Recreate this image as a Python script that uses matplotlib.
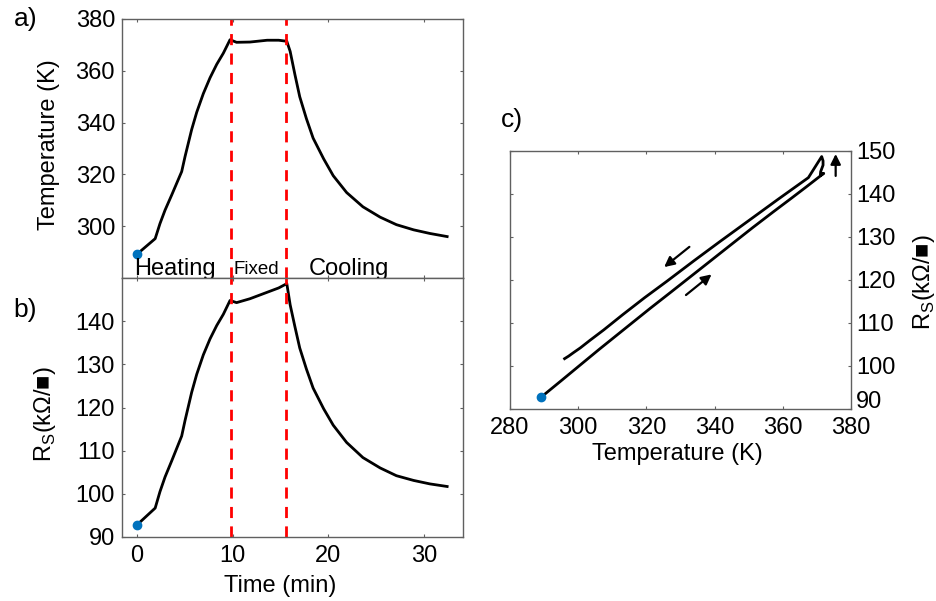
import matplotlib
matplotlib.use('Agg')
import matplotlib.pyplot as plt
import matplotlib.transforms as mtransforms
import numpy as np

plt.rcParams['font.family'] = ['Liberation Sans', 'DejaVu Sans']
plt.rcParams['mathtext.fontset'] = 'custom'
plt.rcParams['mathtext.rm'] = 'Liberation Sans'

# time (min), temperature (K), sheet resistance (kOhm/sq)
time = [0, 1.9, 2.4, 2.93, 3.62, 4.67, 5.02, 5.71, 6.24, 6.93, 7.63, 8.33, 9.02, 9.72,
        10.4, 11.8, 13.6, 14.8, 15.65,
        16.0, 16.5, 17.0, 17.7, 18.4, 19.5, 20.5, 21.9, 23.6, 25.4, 27.1, 28.9, 30.6, 32.4]
temp = [289.2, 295.2, 301.0, 306.2, 312.0, 321.1, 326.9, 337.3, 344.0, 351.2, 357.3, 362.5, 366.8, 372.0,
        371.0, 371.1, 371.8, 371.8, 371.4,
        367.5, 358.5, 350.0, 341.5, 334.0, 326.0, 319.5, 313.0, 307.5, 303.5, 300.6, 298.6, 297.2, 296.0]
rs = [92.8, 96.7, 100.5, 103.9, 107.6, 113.4, 117.0, 123.5, 127.7, 132.2, 135.9, 139.0, 141.6, 144.8,
      144.3, 145.2, 146.7, 147.7, 148.7,
      143.8, 138.7, 133.8, 128.9, 124.5, 119.7, 115.9, 111.9, 108.4, 106.0, 104.2, 103.1, 102.3, 101.7]

phase_edges = [9.8, 15.6]
time_ticks = [0, 10, 20, 30]
temp_ticks = [300, 320, 340, 360, 380]
rs_ticks_b = [90, 100, 110, 120, 130, 140]
rs_ticks_c = [90, 100, 110, 120, 130, 140, 150]
tc_ticks = [280, 300, 320, 340, 360, 380]

spine_col = '#606060'
blue = '#0072BD'
fs = 17


def style(ax):
    for s in ax.spines.values():
        s.set_color(spine_col)
        s.set_linewidth(1.0)
    ax.tick_params(direction='in', length=2.5, width=0.8, color=spine_col,
                   top=True, right=True, labelsize=fs, pad=5)


fig = plt.figure(figsize=(9.36, 6.01), dpi=100)

# a) temperature vs time
ax1 = fig.add_axes([0.1303, 0.5374, 0.3644, 0.4310])
ax1.plot(time, temp, color='k', lw=2)
ax1.plot(time[0], temp[0], 'o', color=blue, ms=6)
for t in phase_edges:
    ax1.axvline(t, color='red', ls=(0, (4, 3)), lw=2)
ax1.set_xlim(-1.57, 34.06)
ax1.set_ylim(280, 380)
ax1.set_xticks(time_ticks)
ax1.set_yticks(temp_ticks)
ax1.set_ylabel('Temperature (K)', fontsize=fs)
ax1.yaxis.set_label_coords(-0.182, 0.514)
ax1.text(-0.25, 281.3, 'Heating', fontsize=fs)
ax1.text(10.1, 281.6, 'Fixed', fontsize=13.5)
ax1.text(17.9, 281.3, 'Cooling', fontsize=fs)
style(ax1)
ax1.tick_params(labelbottom=False)

# b) resistance vs time
ax2 = fig.add_axes([0.1303, 0.1065, 0.3644, 0.4309])
ax2.plot(time, rs, color='k', lw=2)
ax2.plot(time[0], rs[0], 'o', color=blue, ms=6)
for t in phase_edges:
    ax2.axvline(t, color='red', ls=(0, (4, 3)), lw=2)
ax2.set_xlim(-1.57, 34.06)
ax2.set_ylim(90, 150)
ax2.set_xticks(time_ticks)
ax2.set_yticks(rs_ticks_b)
ax2.set_xlabel('Time (min)', fontsize=fs)
ax2.xaxis.set_label_coords(0.463, -0.148)
ax2.set_ylabel(r'R$_{\rm S}$(k$\Omega$/■)', fontsize=fs)
ax2.yaxis.set_label_coords(-0.188, 0.475)
style(ax2)
ax2.tick_params(axis='x', pad=6)

# c) resistance vs temperature
ax3 = fig.add_axes([0.5449, 0.3195, 0.3643, 0.4293])
ax3.plot(temp, rs, color='k', lw=2)
ax3.plot(temp[0], rs[0], 'o', color=blue, ms=6)
ax3.set_xlim(280, 380)
ax3.set_ylim(90, 150)
ax3.set_xticks(tc_ticks)
ax3.set_yticks(rs_ticks_c)
style(ax3)
ax3.tick_params(axis='y', labelleft=False, labelright=True, pad=3.5)
ax3.tick_params(axis='x', pad=6)
ax3.yaxis.set_label_position('right')
ax3.set_ylabel(r'R$_{\rm S}$(k$\Omega$/■)', fontsize=fs)
ax3.yaxis.set_label_coords(1.176, 0.49)
ax3.set_xlabel('Temperature (K)', fontsize=fs)
ax3.xaxis.set_label_coords(0.49, -0.13)
# lift the lowest right label a little, as in the original
lab90 = ax3.get_yticklabels()[0]
lab90.set_transform(lab90.get_transform() +
                    mtransforms.ScaledTranslation(0, 0.09, fig.dpi_scale_trans))

arw = dict(arrowstyle='-|>', color='k', lw=1.6, mutation_scale=15, shrinkA=0, shrinkB=0)
ax3.annotate('', xy=(325.2, 123.0), xytext=(332.6, 127.7), arrowprops=arw)
ax3.annotate('', xy=(339.1, 121.3), xytext=(331.6, 116.5), arrowprops=arw)
ax3.annotate('', xy=(375.5, 149.3), xytext=(375.5, 144.2), arrowprops=arw)

fig.text(0.027, 0.968, 'a)', fontsize=19, va='center', ha='center')
fig.text(0.027, 0.484, 'b)', fontsize=19, va='center', ha='center')
fig.text(0.547, 0.80, 'c)', fontsize=19, va='center', ha='center')

fig.savefig('out.png', dpi=100)
